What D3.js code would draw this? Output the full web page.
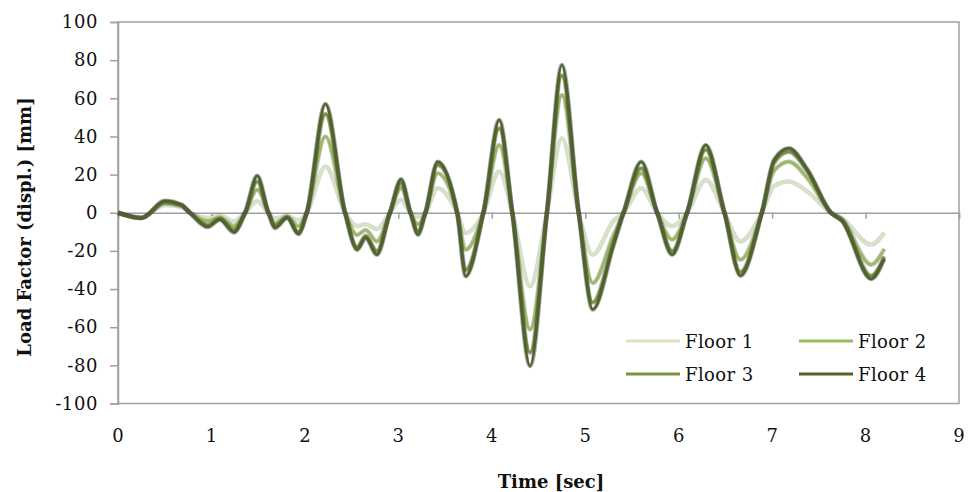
<!DOCTYPE html>
<html>
<head>
  <meta charset="utf-8">
  <script src="https://cdn.jsdelivr.net/npm/d3@7"></script>
  <style>
    body { margin: 0; background: white; }
    text { font-family: "DejaVu Serif", serif; fill: #111; }
  </style>
</head>
<body>
  <script>
    // time knots [sec]
    const time = [0, 0.25, 0.5, 0.68, 0.77, 0.96, 1.09, 1.24, 1.36, 1.49, 1.61, 1.68, 1.81, 1.93, 2.02,
      2.22, 2.43, 2.56, 2.65, 2.77, 2.91, 3.03, 3.13, 3.21, 3.29, 3.42, 3.63, 3.72, 3.91, 4.08, 4.22,
      4.41, 4.59, 4.75, 4.93, 5.08, 5.3, 5.41, 5.6, 5.77, 5.93, 6.09, 6.29, 6.49, 6.66, 6.89, 7.02,
      7.18, 7.38, 7.63, 7.75, 8.06, 8.2]

    const floor1 = [0, -2.5, 4, 3, 0, -2.7, -1.5, -4.5, 0, 6, 0, -3, -1.7, -4, 0,
      24.2, 0, -7, -6, -8.5, 0, 6.8, 0, -2, 0, 12.9, 0, -10.6, 0, 21.6, 0,
      -38.5, 0, 39, 0, -22, -4.5, 0, 12.9, 0, -7, 0, 17.2, 0, -15, 0, 14,
      16.4, 11, 0, -3, -16.7, -10.6]
    const floor2 = [0, -2.7, 5, 3.5, 0, -4.5, -2.5, -7, 0, 12, 0, -5.5, -2, -7, 0,
      40, 0, -11.6, -9, -15, 0, 13, 0, -6, 0, 20.7, 0, -19.4, 0, 35.5, 0,
      -61.2, 0, 61.7, 0, -36.8, -12, 0, 20.7, 0, -14, 0, 28.6, 0, -24.6, 0, 22,
      26.8, 18, 0, -3.5, -27.2, -19]
    const floor3 = [0, -2.8, 5.5, 4, 0, -6.5, -3.2, -9, 0, 16.4, 0, -7, -2.5, -10, 0,
      51.8, 0, -18, -12, -20, 0, 15.5, 0, -9.5, 0, 25, 0, -30, 0, 44.3, 0,
      -73.3, 0, 72, 0, -47, -16, 0, 23.3, 0, -20, 0, 33, 0, -31, 0, 26,
      32, 21.5, 0, -4, -33, -23]
    const floor4 = [0, -2.8, 6.3, 4.2, 0, -7.5, -3.7, -10.3, 0, 19.4, 0, -8, -2.8, -11.2, 0,
      57, 0, -19.4, -13.3, -22, 0, 17.6, 0, -11.5, 0, 26.8, 0, -33.3, 0, 48.6, 0,
      -80.3, 0, 77.4, 0, -50.7, -17.6, 0, 26.8, 0, -22, 0, 35.5, 0, -33, 0, 27.7,
      33.8, 22.5, 0, -4.5, -34.7, -24.2]

    const seriesNames = ['Floor 1', 'Floor 2', 'Floor 3', 'Floor 4']
    const seriesValues = [floor1, floor2, floor3, floor4]
    const colors = ['#d7e4bd', '#9bbb59', '#77933c', '#4f6228']

    const xTicks = [0, 1, 2, 3, 4, 5, 6, 7, 8, 9]
    const yTicks = [-100, -80, -60, -40, -20, 0, 20, 40, 60, 80, 100]

    const W = 968, H = 492
    const plotL = 118, plotR = 959, plotT = 22, plotB = 403.5
    const axisGray = '#a0a0a0'

    const svg = d3.select('body').append('svg').attr('width', W).attr('height', H)

    const x = d3.scaleLinear().domain([0, 9]).range([plotL, plotR])
    const y = d3.scaleLinear().domain([-100, 100]).range([plotB, plotT])

    // plot frame
    svg.append('rect')
      .attr('x', plotL).attr('y', plotT)
      .attr('width', plotR - plotL).attr('height', plotB - plotT)
      .attr('fill', 'none').attr('stroke', axisGray).attr('stroke-width', 1.5)

    // y axis (plain hyphen for negatives, like the original)
    const yAxis = svg.append('g')
      .attr('transform', `translate(${plotL},0)`)
      .call(d3.axisLeft(y).tickValues(yTicks).tickSize(8).tickPadding(12).tickFormat(d => String(d)))
    yAxis.select('.domain').attr('stroke', axisGray).attr('stroke-width', 1.5)
    yAxis.selectAll('.tick line').attr('stroke', axisGray).attr('stroke-width', 1.5)
    yAxis.selectAll('.tick text')
      .attr('font-family', '"DejaVu Serif", serif')
      .attr('font-size', 18).attr('letter-spacing', 0.6).attr('fill', '#111')

    // x axis crossing at zero
    const xAxis = svg.append('g')
      .attr('transform', `translate(0,${y(0)})`)
      .call(d3.axisBottom(x).tickValues(xTicks).tickSize(6).tickFormat(''))
    xAxis.select('.domain').attr('stroke', axisGray).attr('stroke-width', 1.5)
    xAxis.selectAll('.tick line').attr('stroke', axisGray).attr('stroke-width', 1.5)

    // x labels at the bottom
    svg.append('g').selectAll('text')
      .data(xTicks)
      .join('text')
      .attr('x', d => x(d))
      .attr('y', 441.5)
      .attr('text-anchor', 'middle')
      .attr('font-size', 18)
      .text(d => d)

    // lines
    const line = d3.line()
      .x((d, i) => x(time[i]))
      .y(d => y(d))
      .curve(d3.curveMonotoneX)

    const shadowAlpha = [0.18, 0.28, 0.35, 0.4]
    const lines = svg.append('g')
    seriesValues.forEach((vals, i) => {
      lines.append('path')
        .datum(vals)
        .attr('d', line)
        .attr('fill', 'none')
        .attr('stroke', `rgba(40,40,40,${shadowAlpha[i]})`)
        .attr('stroke-width', 4.5)
        .attr('stroke-linejoin', 'round')
      lines.append('path')
        .datum(vals)
        .attr('d', line)
        .attr('fill', 'none')
        .attr('stroke', colors[i])
        .attr('stroke-width', 2.5)
        .attr('stroke-linejoin', 'round')
    })

    // legend
    const legendPos = [
      { lx: 626, ly: 341 },
      { lx: 799, ly: 341 },
      { lx: 626, ly: 374 },
      { lx: 799, ly: 374 }
    ]
    const legend = svg.append('g')
    seriesNames.forEach((name, i) => {
      const p = legendPos[i]
      legend.append('line')
        .attr('x1', p.lx).attr('x2', p.lx + 54)
        .attr('y1', p.ly).attr('y2', p.ly)
        .attr('stroke', colors[i]).attr('stroke-width', 3)
      legend.append('text')
        .attr('x', p.lx + 59).attr('y', p.ly + 7)
        .attr('font-size', 18).attr('letter-spacing', 0.4)
        .text(name)
    })

    // axis titles
    svg.append('text')
      .attr('x', 551).attr('y', 488)
      .attr('text-anchor', 'middle')
      .attr('font-size', 18).attr('font-weight', 'bold')
      .text('Time [sec]')

    svg.append('text')
      .attr('transform', 'translate(31,227) rotate(-90)')
      .attr('text-anchor', 'middle')
      .attr('font-size', 18).attr('font-weight', 'bold')
      .text('Load Factor (displ.) [mm]')
  </script>
</body>
</html>
